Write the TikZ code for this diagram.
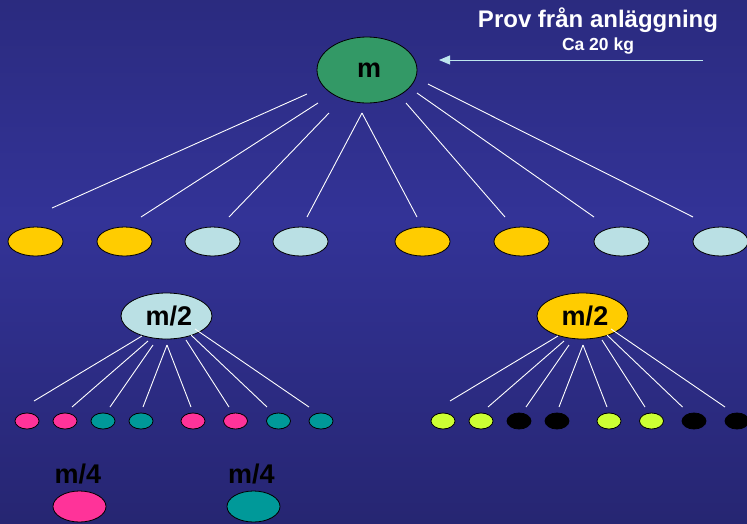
\documentclass[tikz,border=0pt]{standalone}
\usepackage{fontspec}
\setmainfont{Liberation Sans}
\usetikzlibrary{shapes.geometric,arrows.meta,calc}

\definecolor{bgtop}{RGB}{33,33,99}
\definecolor{bgmid}{RGB}{51,51,151}
\definecolor{bgbot}{RGB}{27,26,82}
\definecolor{mgreen}{RGB}{51,153,102}
\definecolor{myellow}{RGB}{255,204,0}
\definecolor{mcyan}{RGB}{186,224,228}
\definecolor{mpink}{RGB}{255,51,153}
\definecolor{mteal}{RGB}{0,153,153}
\definecolor{mlime}{RGB}{204,255,51}
\definecolor{arrowcol}{RGB}{190,230,238}

\pgfdeclareverticalshading{bgshade}{100bp}{%
  color(0bp)=(bgbot); color(54bp)=(bgmid); color(100bp)=(bgtop)}

\tikzset{
  blob/.style={ellipse, draw=black, line width=0.8pt, inner sep=0pt},
  bigblob/.style={blob, minimum width=100pt, minimum height=66pt},
  midblob/.style={blob, minimum width=91pt, minimum height=46pt},
  partblob/.style={blob, minimum width=55pt, minimum height=29pt},
  dotblob/.style={blob, minimum width=24pt, minimum height=16pt},
  keyblob/.style={blob, minimum width=53pt, minimum height=31pt},
  masstext/.style={font=\fontsize{27}{27}\selectfont\bfseries, text=black},
  split/.style={draw=white, line width=0.9pt},
  feed/.style={draw=arrowcol, line width=0.9pt,
    -{Triangle[length=11pt,width=9pt,fill=arrowcol]}},
}

\begin{document}
\begin{tikzpicture}[x=1pt,y=-1pt]
  % background
  \path[shading=bgshade] (0,0) rectangle (747,523);
  \useasboundingbox (0,0) rectangle (747,523);

  % heading
  \node[anchor=base, text=white, font=\fontsize{24}{24}\selectfont\bfseries]
    (title) at (598,27) {Prov från anläggning};
  \node[anchor=base, text=white, font=\fontsize{17.5}{17.5}\selectfont\bfseries]
    (weight) at (598,50) {Ca 20 kg};

  % whole sample
  \node[bigblob, fill=mgreen, masstext] (m) at (367,70) {\hspace*{4pt}m};
  \coordinate (src) at (703,60);
  \draw[feed] (src) -- ($(m)+(72,-10)$);

  % first split into eight parts
  \foreach \i/\x/\c in {1/35.5/myellow, 2/124.5/myellow, 3/212.5/mcyan, 4/300.5/mcyan,
                        5/422.5/myellow, 6/521.5/myellow, 7/621.5/mcyan, 8/720.5/mcyan}
    \node[partblob, fill=\c] (a\i) at (\x,241.5) {};

  \foreach \i/\sx/\sy/\ex/\ey in {1/-60/24/16.5/-33.5, 2/-49/33/16.5/-24.5,
      3/-38/43/16.5/-24.5, 4/-5/43/6.5/-24.5, 5/-5/43/-5.5/-24.5,
      6/39/33/-16.5/-24.5, 7/50/23/-27.5/-24.5, 8/61/14/-27.5/-24.5}
    \draw[split] ($(m)+(\sx,\sy)$) -- ($(a\i)+(\ex,\ey)$);

  % halves
  \node[midblob, fill=mcyan, masstext] (hl) at (166.5,316) {\hspace*{5pt}m/2};
  \node[midblob, fill=myellow, masstext] (hr) at (582.5,316) {\hspace*{5pt}m/2};

  % second split
  \foreach \i/\x/\c in {1/27/mpink, 2/65/mpink, 3/103/mteal, 4/141/mteal,
                        5/193/mpink, 6/235.5/mpink, 7/278.5/mteal, 8/321/mteal}
    \node[dotblob, fill=\c] (l\i) at (\x,421) {};
  \foreach \i/\x/\c in {1/443/mlime, 2/481/mlime, 3/519/black, 4/557/black,
                        5/609/mlime, 6/651.5/mlime, 7/694/black, 8/737/black}
    \node[dotblob, fill=\c] (r\i) at (\x,421) {};

  \foreach \i/\sx/\sy/\ex/\ey in {1/-24.5/20/7/-20, 2/-18.5/25/7/-14,
      3/-13.5/29/7/-14, 4/0.5/29/2/-14, 5/0.5/29/-2/-14,
      6/19.5/24/-6.5/-14, 7/24.5/19/-11.5/-14, 8/28.5/13/-12/-14}
  {
    \draw[split] ($(hl)+(\sx,\sy)$) -- ($(l\i)+(\ex,\ey)$);
    \draw[split] ($(hr)+(\sx,\sy)$) -- ($(r\i)+(\ex,\ey)$);
  }

  % quarters
  \node[anchor=base, masstext] (t1) at (78,483) {m/4};
  \node[anchor=base, masstext] (t2) at (251.5,483) {m/4};
  \node[keyblob, fill=mpink] (q1) at (79.5,506.5) {};
  \node[keyblob, fill=mteal] (q2) at (253.5,506.5) {};
\end{tikzpicture}
\end{document}
